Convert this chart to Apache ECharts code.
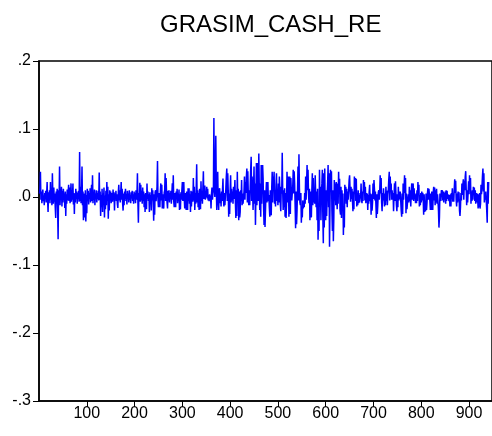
<!DOCTYPE html>
<html>
<head>
<meta charset="utf-8">
<script src="https://cdn.jsdelivr.net/npm/echarts@6/dist/echarts.min.js"></script>
<style>html,body{margin:0;padding:0;background:#fff;}#c{width:492px;height:436px;}</style>
</head>
<body>
<div id="c"></div>
<script>
const chartTitle = 'GRASIM_CASH_RE';
const xTickValues = [100, 200, 300, 400, 500, 600, 700, 800, 900];
const yTickValues = [-0.3, -0.2, -0.1, 0, 0.1, 0.2];
const yTickLabels = ['-.3', '-.2', '-.1', '.0', '.1', '.2'];
// observation values in thousandths (0.001), observations 1..941
const returnsMilli = [
5,14,37,-4,8,-9,3,11,-6,2,-12,6,-3,9,-8,4,22,-5,-22,7,
-3,10,-9,22,-4,8,-12,35,2,-10,14,-7,5,-15,-31,8,-6,12,-18,-62,
10,-5,45,-12,6,-3,15,-14,9,-8,12,-2,5,-16,8,-28,4,-10,11,-5,
7,18,-6,14,-9,3,20,-7,10,-4,20,-11,6,-25,5,-8,12,-3,8,-10,
6,-2,9,-7,66,-6,15,-9,4,45,-12,8,-34,5,-20,-30,10,-36,3,-24,
12,-5,9,-11,6,-3,13,-8,4,18,-6,32,-9,7,-4,11,-12,5,-2,10,
-8,6,-3,9,-5,36,-4,8,-28,3,-15,12,-22,5,-9,14,-30,2,-18,9,
-12,22,-6,15,-32,4,-20,10,-5,8,-9,3,6,-7,11,-4,7,-20,5,-3,
9,-6,4,-10,-16,7,18,-5,10,-8,6,22,-4,12,-9,-20,5,-12,8,-3,
12,-6,4,-11,9,-2,5,-8,10,-4,3,-9,7,-2,9,-6,4,-10,8,-3,
6,-9,10,-4,2,35,-8,-38,6,-3,21,-7,18,-5,9,-10,14,-6,8,-15,
4,-22,6,-9,-18,20,-3,8,-6,4,-22,7,-10,3,-20,13,-5,10,-8,-35,
4,-26,7,10,-6,3,15,53,-4,-15,6,-12,-15,8,20,-5,18,-17,4,-12,
-17,6,10,35,-6,28,4,-8,-17,9,-5,10,-8,6,-3,9,-10,5,20,-4,
32,-7,-15,6,-12,-15,8,-3,12,-9,5,-6,11,-19,4,-18,7,-4,10,22,
-6,15,22,-3,-17,6,-5,-19,8,-12,-19,13,-6,13,-10,4,-22,9,-14,3,
8,-7,28,-5,15,-19,6,-10,12,48,-8,10,-15,6,-19,12,-4,-18,23,-6,
9,-10,14,38,-3,8,17,-4,6,0,15,-2,12,-5,3,-6,4,-5,2,-17,
5,14,-4,6,10,116,12,0,30,90,15,-19,8,37,-5,-19,6,13,-9,5,
-14,8,-6,10,27,-4,-14,6,-12,-14,12,30,42,-6,35,10,-29,5,-25,9,
32,-8,12,-5,8,-10,15,-3,6,25,-8,-31,10,-28,37,-5,12,-34,8,-30,
-22,10,-6,25,-12,5,-10,-12,8,30,-4,22,6,30,42,-8,38,4,-12,10,
-12,15,40,59,-6,30,8,-19,12,45,-10,20,-41,8,50,-12,35,50,-6,64,
12,-19,20,-29,47,-10,30,47,27,-15,-41,10,-44,-20,5,22,-8,15,22,-6,
3,-15,-29,10,-18,-27,12,37,-8,30,20,37,-10,5,-14,18,35,-6,10,-12,
20,-8,30,12,-10,-21,15,5,65,8,-19,10,-15,13,-29,6,-31,-10,37,12,
-8,30,-29,5,30,-25,28,10,-5,-7,15,40,5,38,20,-12,-46,8,-40,-20,
10,45,-5,63,12,-8,-12,6,-38,-15,-30,-5,-17,-8,-15,6,-10,30,-4,20,
47,10,40,5,-9,12,-34,8,-20,-30,10,35,-12,28,-8,12,-10,32,5,-15,
8,-34,12,-63,-20,-50,40,-10,15,-34,5,20,40,-30,-68,35,-45,42,-20,-34,
10,-28,5,20,47,-15,35,-73,-10,40,8,38,-20,-50,10,-65,-30,25,-5,20,
-12,22,5,-18,20,-10,37,8,27,-20,-26,15,-31,10,-12,5,-56,-20,-45,18,
-5,15,-10,12,-15,8,-4,10,25,32,10,-7,15,-3,12,-5,-21,8,-18,30,
5,28,-6,27,-14,6,-12,10,-9,3,-8,6,-2,20,-5,-9,8,-6,25,10,
22,-5,15,-9,6,-8,5,-19,3,-10,8,18,-6,5,-26,4,-20,-8,20,-3,
25,12,-5,8,-10,-31,4,-25,-12,6,10,-4,8,32,5,28,-8,-21,6,-5,
13,-3,-14,5,-12,15,-6,9,-12,4,10,26,37,-5,30,8,20,-4,10,-4,
6,-21,3,20,-6,23,5,-12,-21,4,-15,15,-5,8,-3,8,-6,-20,-29,5,
-25,20,-4,12,32,6,28,-24,5,-18,-10,-12,4,-8,15,-6,10,-14,6,20,
-4,15,20,-6,13,-3,3,-9,5,-9,10,-6,22,4,18,-14,3,-12,6,-8,
8,-5,6,-2,-26,4,-22,-10,-21,5,-19,-8,6,13,-4,12,13,-6,-19,5,
-19,8,-15,-19,6,15,-5,14,-12,10,-8,12,-10,4,-6,-20,-45,-30,5,3,
-6,10,4,10,-5,8,-8,6,-4,8,-10,10,-6,9,-3,4,5,-6,3,-14,
4,-14,6,-3,13,-7,5,-7,12,26,6,24,-4,-14,5,-8,8,-6,7,-20,
-28,-15,6,-5,20,3,18,26,-4,24,10,30,38,12,-12,10,-8,6,23,4,
32,10,28,-10,8,-6,10,-4,15,3,14,-6,10,-10,6,-8,5,-3,-17,4,
-15,6,-17,-10,18,4,15,30,42,8,35,-8,6,-4,8,-6,-20,-38,22,-10,22
];

const seriesData = returnsMilli.map((v, i) => [i + 1, v / 1000]);
const FONT = 'Liberation Sans, Arial, sans-serif';

const chart = echarts.init(document.getElementById('c'), null, { renderer: 'canvas' });
chart.setOption({
  animation: false,
  backgroundColor: '#fff',
  title: {
    text: chartTitle,
    left: 155,
    top: 8,
    textStyle: { fontFamily: FONT, fontSize: 24, fontWeight: 'normal', color: '#000' }
  },
  grid: {
    left: 39, right: -2, top: 61, bottom: 35,
    show: true, borderColor: '#000', borderWidth: 1.5, backgroundColor: 'transparent'
  },
  xAxis: {
    type: 'value', min: 0, max: 948, interval: 100,
    axisLine: { show: true, onZero: false, lineStyle: { color: '#000', width: 1.5 } },
    axisTick: { show: true, length: 6, customValues: xTickValues, lineStyle: { color: '#000', width: 1 } },
    axisLabel: { customValues: xTickValues, fontFamily: FONT, fontSize: 16, color: '#000', margin: 5 },
    splitLine: { show: false }
  },
  yAxis: {
    type: 'value', min: -0.3, max: 0.2, interval: 0.1,
    axisLine: { show: true, lineStyle: { color: '#000', width: 1.5 } },
    axisTick: { show: true, length: 6, customValues: yTickValues, lineStyle: { color: '#000', width: 1 } },
    axisLabel: {
      customValues: yTickValues, fontFamily: FONT, fontSize: 16, color: '#000', margin: 8,
      formatter: function (v) {
        let best = 0, bd = 1e9;
        yTickValues.forEach((t, k) => { const d = Math.abs(t - v); if (d < bd) { bd = d; best = k; } });
        return yTickLabels[best];
      }
    },
    splitLine: { show: false }
  },
  series: [{
    type: 'line',
    data: seriesData,
    showSymbol: false,
    symbol: 'none',
    lineStyle: { color: '#0000FF', width: 1.5 },
    clip: true
  }]
});
</script>
</body>
</html>
